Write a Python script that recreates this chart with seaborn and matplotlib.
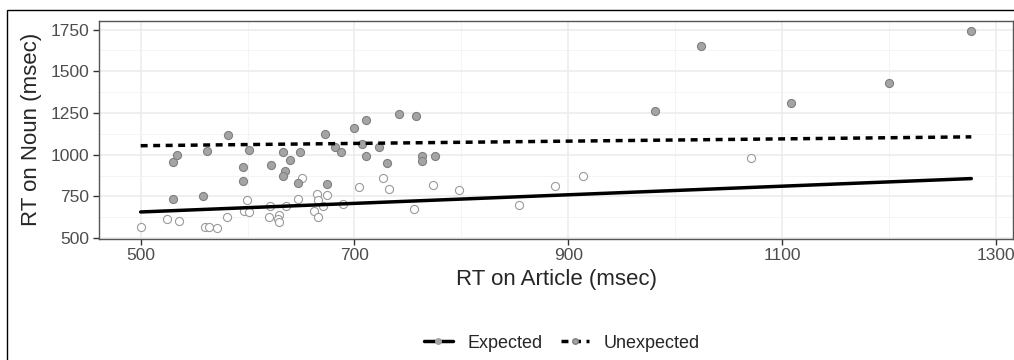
import matplotlib.pyplot as plt
import matplotlib.patches as mpatches
from matplotlib.lines import Line2D
from matplotlib.ticker import FixedLocator
import pandas as pd
import seaborn as sns

# per-item reading times
expected_article = [500, 525, 536, 560, 564, 571, 581, 599, 597, 601, 621, 620, 629, 628, 629,
                    636, 647, 651, 662, 665, 666, 666, 674, 671, 689, 704, 727, 732, 773, 798,
                    756, 854, 888, 914, 1071]
expected_noun = [565, 617, 603, 565, 568, 560, 629, 726, 665, 655, 690, 627, 639, 615, 598,
                 695, 734, 859, 661, 762, 730, 627, 756, 695, 705, 806, 859, 794, 820, 788,
                 673, 699, 810, 873, 978]

unexpected_article = [530, 534, 530, 558, 562, 582, 596, 596, 601, 622, 633, 640, 635, 633, 649,
                      647, 672, 682, 687, 674, 700, 711, 707, 711, 723, 730, 742, 758, 763, 763,
                      775, 981, 1024, 1108, 1200, 1277]
unexpected_noun = [957, 998, 736, 752, 1024, 1121, 929, 842, 1028, 939, 1018, 967, 905, 873, 1014,
                   830, 1127, 1046, 1018, 827, 1161, 1211, 1064, 992, 1048, 952, 1244, 1234, 994, 961,
                   994, 1264, 1651, 1312, 1431, 1744]

# model fit lines (endpoints)
fit_article = [500, 1277]
fit_expected = [657, 857]
fit_unexpected = [1054, 1107]

x_ticks = [500, 700, 900, 1100, 1300]
x_minor = [600, 800, 1000, 1200]
y_ticks = [500, 750, 1000, 1250, 1500, 1750]
y_minor = [625, 875, 1125, 1375, 1625]

df = pd.DataFrame({
    'article': expected_article + unexpected_article,
    'noun': expected_noun + unexpected_noun,
    'cond': ['Expected'] * len(expected_article) + ['Unexpected'] * len(unexpected_article),
})
fits = pd.DataFrame({
    'article': fit_article * 2,
    'noun': fit_expected + fit_unexpected,
    'cond': ['Expected'] * 2 + ['Unexpected'] * 2,
})

sns.set_style('white')
plt.rcParams['font.family'] = ['Liberation Sans', 'DejaVu Sans']

fig = plt.figure(figsize=(10.14, 3.6), dpi=100)
ax = fig.add_axes([99 / 1014, 1 - 238.5 / 360, 914 / 1014, 217.8 / 360])

sns.scatterplot(data=df[df.cond == 'Expected'], x='article', y='noun', ax=ax,
                color='white', edgecolor='#9a9a9a', linewidth=0.8, s=34, zorder=3)
sns.scatterplot(data=df[df.cond == 'Unexpected'], x='article', y='noun', ax=ax,
                color='#a4a4a4', edgecolor='#808080', linewidth=0.8, s=34, zorder=3)
sns.lineplot(data=fits, x='article', y='noun', style='cond', ax=ax, color='black',
             linewidth=2.5, dashes={'Expected': '', 'Unexpected': (2, 1.6)},
             legend=False, zorder=4)

ax.set_xlim(461, 1316)
ax.set_ylim(498, 1803)
ax.xaxis.set_major_locator(FixedLocator(x_ticks))
ax.xaxis.set_minor_locator(FixedLocator(x_minor))
ax.yaxis.set_major_locator(FixedLocator(y_ticks))
ax.yaxis.set_minor_locator(FixedLocator(y_minor))
ax.grid(which='major', color='#ebebeb', linewidth=1.1, zorder=0)
ax.grid(which='minor', color='#f4f4f4', linewidth=0.7, zorder=0)
ax.set_axisbelow(True)
for sp in ax.spines.values():
    sp.set_color('#555555')
    sp.set_linewidth(1.0)
ax.tick_params(which='major', length=4, width=1, color='#333333', labelsize=12.5,
               labelcolor='#4d4d4d', left=True, bottom=True, pad=3)
ax.tick_params(which='minor', length=0)
ax.set_xlabel('RT on Article (msec)', fontsize=16, labelpad=4)
ax.set_ylabel('RT on Noun (msec)', fontsize=16, labelpad=6)

handles = [
    Line2D([0], [0], color='black', linewidth=2.5, marker='o', markersize=4,
           markerfacecolor='#a4a4a4', markeredgecolor='#a4a4a4'),
    Line2D([0], [0], color='black', linewidth=2.5, linestyle=(0, (2, 1.6)), marker='o',
           markersize=4, markerfacecolor='#a4a4a4', markeredgecolor='#808080'),
]
fig.legend(handles, ['Expected', 'Unexpected'], loc='center', ncol=2,
           bbox_to_anchor=(562 / 1014, 1 - 343 / 360), frameon=False, fontsize=13,
           handlelength=1.6, columnspacing=1.0, handletextpad=0.8)

# outer frame
fig.patches.append(mpatches.Rectangle((7 / 1014, -0.1), 1.1, 1 - 10 / 360 + 0.1,
                                      transform=fig.transFigure, fill=False,
                                      edgecolor='black', linewidth=1.0))

fig.savefig('out.png', dpi=100)
